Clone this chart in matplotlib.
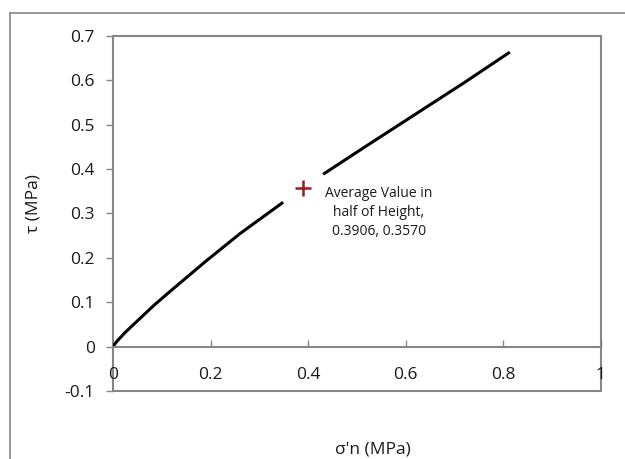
import matplotlib
matplotlib.use("Agg")
import matplotlib.pyplot as plt
from matplotlib.patches import Rectangle
from matplotlib.lines import Line2D

# curve (two pieces, gap around the average point)
seg1_x = [0.0, 0.008, 0.025, 0.052, 0.085, 0.12, 0.189, 0.26, 0.349]
seg1_y = [0.0, 0.012, 0.032, 0.060, 0.094, 0.127, 0.191, 0.254, 0.325]
seg2_x = [0.431, 0.52, 0.62, 0.72, 0.814]
seg2_y = [0.388, 0.452, 0.523, 0.594, 0.663]

avg_x = 0.3906
avg_y = 0.3570
avg_label = "Average Value in\nhalf of Height,\n0.3906, 0.3570"

xticks = [0, 0.2, 0.4, 0.6, 0.8, 1]
xticklabels = ["0", "0.2", "0.4", "0.6", "0.8", "1"]
yticks = [-0.1, 0, 0.1, 0.2, 0.3, 0.4, 0.5, 0.6, 0.7]
yticklabels = ["-0.1", "0", "0.1", "0.2", "0.3", "0.4", "0.5", "0.6", "0.7"]

plt.rcParams['font.family'] = ['Open Sans', 'DejaVu Sans']
grey = "#868686"
txt = "#1a1a1a"

fig = plt.figure(figsize=(6.25, 4.59), dpi=100)
ax = fig.add_axes([0.1808, 0.1481, 0.78, 0.7741])

ax.plot(seg1_x, seg1_y, color="black", lw=2.2, solid_capstyle="butt")
ax.plot(seg2_x, seg2_y, color="black", lw=2.2, solid_capstyle="butt")
ax.plot(avg_x, avg_y, marker="+", color="#9b1c1c", markersize=12, mew=1.8)
ax.text(avg_x + 0.155, avg_y + 0.004, avg_label, ha="center", va="top",
        fontsize=10, color=txt, linespacing=1.35)

ax.set_xlim(0, 1)
ax.set_ylim(-0.1, 0.7)

for s in ["top", "right", "left"]:
    ax.spines[s].set_visible(False)
ax.spines["bottom"].set_position(("data", 0))
ax.spines["bottom"].set_color(grey)
ax.spines["bottom"].set_linewidth(1.5)
ax.add_patch(Rectangle((0, 0), 1, 1, transform=ax.transAxes, fill=False,
                       edgecolor=grey, lw=1.5, clip_on=False))

ax.set_xticks(xticks)
ax.set_xticklabels(xticklabels)
ax.set_yticks(yticks)
ax.set_yticklabels(yticklabels)
ax.tick_params(axis="x", direction="in", length=5, color=grey, width=1,
               pad=15, labelsize=12.5, labelcolor=txt)
ax.tick_params(axis="y", direction="out", length=5, color=grey, width=1,
               pad=8, labelsize=12.5, labelcolor=txt)

fig.text(373 / 625, 1 - 449 / 459, "σ'n (MPa)", ha="center", va="center",
         fontsize=12.5, color=txt)
fig.text(33 / 625, 1 - 204 / 459, "τ (MPa)", ha="center", va="center",
         rotation=90, fontsize=12.5, color=txt)

# outer chart border (runs off the right and bottom edges)
fig.add_artist(Line2D([10 / 625, 1.0], [1 - 13 / 459, 1 - 13 / 459],
                      transform=fig.transFigure, color=grey, lw=1.2))
fig.add_artist(Line2D([10 / 625, 10 / 625], [0.0, 1 - 13 / 459],
                      transform=fig.transFigure, color=grey, lw=1.2))

fig.savefig("out.png", dpi=100)
